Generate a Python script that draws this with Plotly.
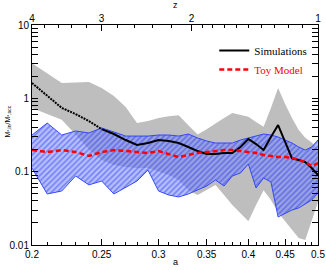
import plotly.graph_objects as go
import numpy as np

a_grid = [0.20, 0.21, 0.22, 0.23, 0.24, 0.25, 0.26, 0.27, 0.28, 0.29, 0.30,
          0.31, 0.32, 0.33, 0.34, 0.35, 0.36, 0.37, 0.38, 0.39, 0.40,
          0.41, 0.42, 0.43, 0.44, 0.45, 0.46, 0.47, 0.48, 0.49, 0.50]

gray_upper = [3.0, 2.2, 1.62, 1.64, 1.67, 1.38, 1.08, 0.76, 0.46, 0.49, 0.54,
              0.57, 0.59, 0.43, 0.32, 0.38, 0.46, 0.54, 0.63, 0.59, 0.56,
              0.475, 0.41, 0.74, 1.38, 0.84, 0.54, 0.37, 0.29, 0.25, 0.20]
gray_lower = [0.74, 0.61, 0.51, 0.32, 0.20, 0.144, 0.123, 0.116, 0.112, 0.112, 0.099,
              0.090, 0.077, 0.056, 0.048, 0.056, 0.066, 0.048, 0.035, 0.027, 0.021,
              0.035, 0.056, 0.041, 0.028, 0.021, 0.016, 0.0125, 0.0117, 0.022, 0.0385]

blue_upper = [0.316, 0.46, 0.316, 0.359, 0.337, 0.394, 0.348, 0.306, 0.306, 0.306, 0.316,
              0.316, 0.306, 0.326, 0.288, 0.262, 0.246, 0.246, 0.246, 0.270, 0.288,
              0.306, 0.326, 0.316, 0.297, 0.270, 0.246, 0.217, 0.197, 0.217, 0.270]
blue_lower = [0.112, 0.0496, 0.0545, 0.0873, 0.066, 0.0746, 0.0496, 0.0618, 0.0746, 0.105, 0.0545,
              0.048, 0.0452, 0.0496, 0.056, 0.0637, 0.077, 0.0637, 0.0873, 0.096, 0.127,
              0.0598, 0.082, 0.0723, 0.0241, 0.027, 0.030, 0.032, 0.0362, 0.041, 0.0512]

a_dotted = [0.20, 0.21, 0.22, 0.23, 0.24, 0.25]
sim_dotted = [1.62, 1.08, 0.74, 0.61, 0.49, 0.38]

a_solid = [0.25, 0.26, 0.27, 0.28, 0.29, 0.30, 0.31, 0.32, 0.33, 0.34, 0.35,
           0.36, 0.37, 0.38, 0.39, 0.40, 0.41, 0.42, 0.43, 0.44, 0.45,
           0.46, 0.47, 0.48, 0.49, 0.50]
sim_solid = [0.38, 0.326, 0.270, 0.231, 0.246, 0.270, 0.262, 0.246, 0.217, 0.191, 0.174,
             0.174, 0.180, 0.180, 0.217, 0.279, 0.238, 0.197, 0.297, 0.432, 0.254,
             0.152, 0.144, 0.135, 0.112, 0.090]

toy_model = [0.197, 0.185, 0.197, 0.185, 0.164, 0.185, 0.197, 0.191, 0.185, 0.180, 0.191,
             0.174, 0.158, 0.169, 0.180, 0.185, 0.191, 0.197, 0.197, 0.191, 0.185,
             0.180, 0.169, 0.164, 0.158, 0.158, 0.154, 0.144, 0.135, 0.119, 0.131]

x_major = [0.2, 0.25, 0.3, 0.35, 0.4, 0.45, 0.5]
x_major_labels = ["0.2", "0.25", "0.3", "0.35", "0.4", "0.45", "0.5"]
z_major = [4, 3, 2, 1]
z_minor = [3.8, 3.6, 3.4, 3.2, 2.8, 2.6, 2.4, 2.2, 1.9, 1.8, 1.7, 1.6, 1.5, 1.4, 1.3, 1.2, 1.1]
y_major = [0.01, 0.1, 1, 10]
y_major_labels = ["0.01", "0.1", "1", "10"]

tick_font = dict(family="Liberation Sans, Arial, sans-serif", size=10, color="black")
title_font = dict(family="Liberation Sans, Arial, sans-serif", size=9, color="black")

fig = go.Figure()

# gray band
fig.add_trace(go.Scatter(x=a_grid, y=gray_lower, mode="lines", line=dict(width=0, color="#bebebe"),
                         showlegend=False, hoverinfo="skip"))
fig.add_trace(go.Scatter(x=a_grid, y=gray_upper, mode="lines", line=dict(width=0, color="#bebebe"),
                         fill="tonexty", fillcolor="#bebebe", showlegend=False, hoverinfo="skip"))

# blue hatched band
fig.add_trace(go.Scatter(x=a_grid, y=blue_lower, mode="lines", line=dict(width=1, color="rgba(40,60,255,0.9)"),
                         showlegend=False, hoverinfo="skip"))
fig.add_trace(go.Scatter(x=a_grid, y=blue_upper, mode="lines", line=dict(width=1, color="rgba(40,60,255,0.9)"),
                         fill="tonexty", fillcolor="rgba(80,100,255,0.55)",
                         fillpattern=dict(shape="/", size=4, solidity=0.4,
                                          fgcolor="rgba(30,40,235,0.85)", bgcolor="rgba(120,140,255,0.55)"),
                         showlegend=False, hoverinfo="skip"))

# simulations
fig.add_trace(go.Scatter(x=a_dotted, y=sim_dotted, mode="lines",
                         line=dict(color="black", width=2, dash="2px,1px"),
                         showlegend=False, hoverinfo="skip"))
fig.add_trace(go.Scatter(x=a_solid, y=sim_solid, mode="lines",
                         line=dict(color="black", width=2), name="Simulations"))

# toy model
fig.add_trace(go.Scatter(x=a_grid, y=toy_model, mode="lines",
                         line=dict(color="red", width=2.5, dash="5px,3px"),
                         name="<span style='color:red'>Toy Model</span>"))

# top z axis helper trace (invisible)
fig.add_trace(go.Scatter(x=[0.2, 0.5], y=[1, 1], xaxis="x2", mode="lines",
                         line=dict(width=0), showlegend=False, hoverinfo="skip", opacity=0))

a_from_z = lambda z: 1.0 / (1.0 + z)

fig.update_layout(
    width=326, height=270,
    margin=dict(l=32, r=8, t=25, b=25),
    paper_bgcolor="white", plot_bgcolor="white",
    showlegend=True,
    legend=dict(x=0.98, y=0.95, xanchor="right", yanchor="top",
                bgcolor="rgba(0,0,0,0)", borderwidth=0, traceorder="normal",
                font=dict(family="Liberation Serif, Times New Roman, serif", size=11, color="black"),
                itemwidth=30, tracegroupgap=0),
    xaxis=dict(type="log", range=[np.log10(0.2), np.log10(0.5)], automargin=False,
               ticklabeloverflow="allow",
               tickmode="array", tickvals=x_major, ticktext=x_major_labels,
               ticks="inside", ticklen=6, tickcolor="black", tickwidth=1,
               minor=dict(tickmode="array", tickvals=[round(0.2 + 0.01 * i, 2) for i in range(31)],
                          ticks="inside", ticklen=3, tickcolor="black"),
               showline=True, linecolor="black", linewidth=1, mirror=True,
               showgrid=False, zeroline=False, tickfont=tick_font),
    xaxis2=dict(type="log", range=[np.log10(0.2), np.log10(0.5)], overlaying="x", side="top",
                anchor="y", automargin=False, ticklabeloverflow="allow",
                tickmode="array", tickvals=[a_from_z(z) for z in z_major],
                ticktext=[str(z) for z in z_major],
                ticks="inside", ticklen=6, tickcolor="black",
                minor=dict(tickmode="array", tickvals=[a_from_z(z) for z in z_minor],
                           ticks="inside", ticklen=3, tickcolor="black"),
                showgrid=False, zeroline=False, tickfont=tick_font),
    yaxis=dict(type="log", range=[-2, 1], automargin=False, ticklabeloverflow="allow",
               tickmode="array", tickvals=y_major, ticktext=y_major_labels,
               ticks="inside", ticklen=6, tickcolor="black",
               minor=dict(tickmode="array",
                          tickvals=[m * d for d in [0.01, 0.1, 1] for m in range(2, 10)],
                          ticks="inside", ticklen=3, tickcolor="black"),
               showline=True, linecolor="black", linewidth=1, mirror="allticks",
               showgrid=False, zeroline=False, tickfont=tick_font),
    annotations=[
        dict(text="a", xref="paper", yref="paper", x=0.5, y=-0.077, xanchor="center", yanchor="middle",
             showarrow=False, font=title_font),
        dict(text="z", xref="paper", yref="paper", x=0.5, y=1.09, xanchor="center", yanchor="middle",
             showarrow=False, font=title_font),
        dict(text="M<sub>*,in</sub>/M<sub>*,acc</sub>", xref="paper", yref="paper",
             x=-0.085, y=0.56, xanchor="center", yanchor="middle", textangle=-90,
             showarrow=False, font=dict(family="Liberation Sans, Arial, sans-serif", size=7, color="black")),
    ],
)

fig.write_html("out.html", config={"displayModeBar": False, "staticPlot": True},
               post_script="document.body.style.margin='0';")
